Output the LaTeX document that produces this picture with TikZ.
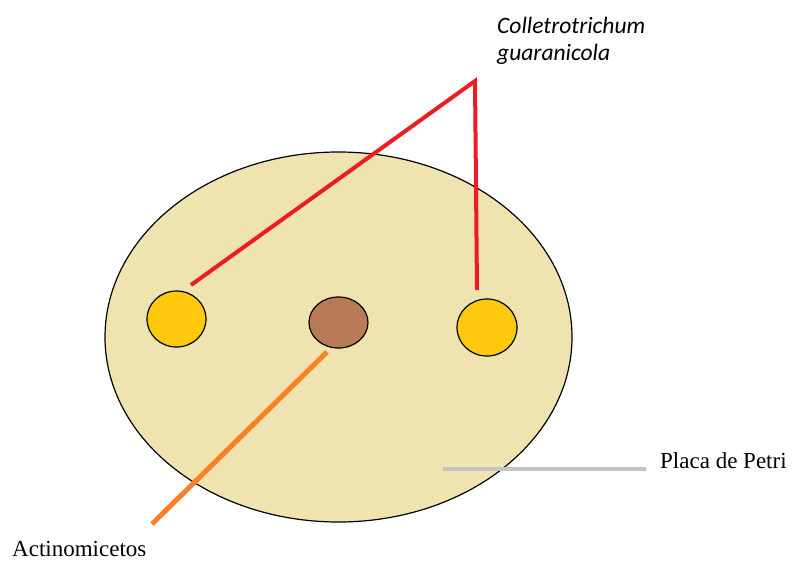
\documentclass[tikz,border=0pt]{standalone}
\usepackage{fontspec}
\setmainfont{Liberation Serif}
\newfontfamily\carlito{Carlito}
\usetikzlibrary{shapes.geometric}
\definecolor{agar}{HTML}{EFE4B0}
\definecolor{fungus}{HTML}{FFC90E}
\definecolor{actino}{HTML}{B97A57}
\definecolor{pred}{HTML}{ED1C24}
\definecolor{porange}{HTML}{FF7F27}
\definecolor{pgray}{HTML}{C3C3C3}
\tikzset{
  blob/.style={ellipse, draw=black, line width=1.2pt, inner sep=0pt},
  lbl/.style={inner sep=0pt, anchor=base west},
  itl/.style={lbl, font=\carlito\itshape\fontsize{23.5}{27}\selectfont},
  rml/.style={lbl, font=\fontsize{23}{27}\selectfont},
}
\begin{document}
\begin{tikzpicture}[x=1pt,y=-1pt]
\useasboundingbox (0,0) rectangle (794,563);
\node[blob, fill=agar, minimum width=467pt, minimum height=370pt] (plate) at (338.5,337) {};
\node[blob, fill=fungus, minimum width=59pt, minimum height=56pt] (f1) at (176.5,319) {};
\node[blob, fill=actino, minimum width=59pt, minimum height=51pt] (act) at (338.5,322.5) {};
\node[blob, fill=fungus, minimum width=60pt, minimum height=57pt] (f2) at (487,327.5) {};
\node[itl] (coll) at (497,33) {Colletrotrichum};
\node[itl] (guar) at (497,60) {guaranicola};
\node[rml] (actl) at (12,556) {Actinomicetos};
\node[rml] (petri) at (660,468) {Placa de Petri};
\coordinate (apex) at (475,81);
\coordinate (e1) at (191,285);
\coordinate (e2) at (477,290);
\coordinate (o1) at (327,352);
\coordinate (o2) at (152,524);
\coordinate (g1) at (443,469);
\coordinate (g2) at (646,469);
\draw[pred, line width=4pt] (e1) -- (apex) -- (e2);
\draw[porange, line width=5pt] (o1) -- (o2);
\draw[pgray, line width=4pt] (g1) -- (g2);
\end{tikzpicture}
\end{document}
